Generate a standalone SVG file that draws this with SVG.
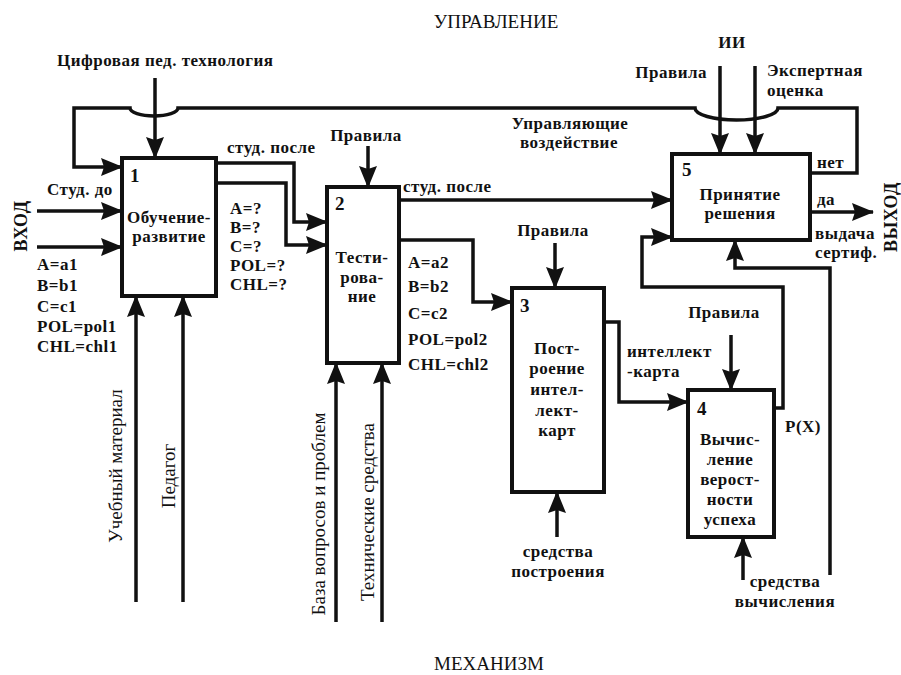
<svg xmlns="http://www.w3.org/2000/svg" width="901" height="675" viewBox="0 0 901 675">
<style>
text{font-family:"Liberation Serif","Times New Roman","DejaVu Serif",serif;font-size:17px;letter-spacing:0.5px;font-weight:bold;fill:#111}
.n{font-weight:normal;font-size:19px;letter-spacing:0}
.d{font-size:19px}
.m{text-anchor:middle}
.e{text-anchor:end}
.box{fill:#fff;stroke:#111;stroke-width:4}
.ln{fill:none;stroke:#111;stroke-width:3.5}
.ar{marker-end:url(#ah)}
</style>
<defs>
<marker id="ah" markerWidth="22" markerHeight="18" refX="21" refY="9" orient="auto" markerUnits="userSpaceOnUse">
<path d="M0,0 L22,9 L0,18 L3,9 z" fill="#111"/>
</marker>
</defs>
<rect width="901" height="675" fill="#fff"/>
<g id="frame-labels">
<text class="m n" x="496" y="28">УПРАВЛЕНИЕ</text>
<text class="m n" x="489" y="670">МЕХАНИЗМ</text>
<text transform="translate(27,226) rotate(-90)" class="m" style="font-size:18px">ВХОД</text>
<text transform="translate(897,217) rotate(-90)" class="m" style="font-size:18px">ВЫХОД</text>
</g>
<g id="connectors">
<path class="ln ar" d="M155,78 V158"/>
<path class="ln ar" d="M810,173 H857 V108 H778 A41.5,12 0 0 1 695,108 H178 A24,8 0 0 1 130,108 H74 V167 H122"/>
<path class="ln ar" d="M37,211 H122"/>
<path class="ln ar" d="M37,247 H122"/>
<path class="ln ar" d="M216,163 H294 V222 H327"/>
<path class="ln ar" d="M216,183 H286 V245 H327"/>
<path class="ln ar" d="M368,146 V187"/>
<path class="ln ar" d="M399,200 H672"/>
<path class="ln ar" d="M399,240 H473 V302 H512"/>
<path class="ln ar" d="M555,243 V288"/>
<path class="ln ar" d="M604,322 H619 V402 H688"/>
<path class="ln ar" d="M731,335 V390"/>
<path class="ln ar" d="M774,408 H783 V287 H642 V237 H672"/>
<path class="ln ar" d="M830,575 V268 H735 V240"/>
<path class="ln ar" d="M720,66 V154"/>
<path class="ln ar" d="M755,66 V154"/>
<path class="ln ar" d="M810,212 H873"/>
<path class="ln ar" d="M136,602 V296"/>
<path class="ln ar" d="M183,602 V296"/>
<path class="ln ar" d="M336,622 V363"/>
<path class="ln ar" d="M382,622 V363"/>
<path class="ln ar" d="M557,537 V492"/>
<path class="ln ar" d="M743,580 V537"/>
</g>
<g id="labels">
<text x="57" y="66">Цифровая пед. технология</text>
<text x="47" y="195">Студ. до</text>
<text x="37" y="270">A=a1</text>
<text x="37" y="291">B=b1</text>
<text x="37" y="312">C=c1</text>
<text x="37" y="332">POL=pol1</text>
<text x="37" y="352">CHL=chl1</text>
<text x="227" y="153">студ. после</text>
<text x="230" y="214">A=?</text>
<text x="230" y="233">B=?</text>
<text x="230" y="252">C=?</text>
<text x="230" y="271">POL=?</text>
<text x="230" y="290">CHL=?</text>
<text class="m" x="366" y="141">Правила</text>
<text x="403" y="192">студ. после</text>
<text x="408" y="268">A=a2</text>
<text x="408" y="292">B=b2</text>
<text x="408" y="319">C=c2</text>
<text x="408" y="345">POL=pol2</text>
<text x="408" y="370">CHL=chl2</text>
<text class="m" x="553" y="236">Правила</text>
<text class="m" x="724" y="318">Правила</text>
<text x="627" y="357">интеллект</text>
<text x="627" y="377">-карта</text>
<text x="785" y="432">P(X)</text>
<text class="m" x="558" y="557">средства</text>
<text class="m" x="558" y="577">построения</text>
<text class="m" x="785" y="587">средства</text>
<text class="m" x="785" y="607">вычисления</text>
<text class="m" x="732" y="48">ИИ</text>
<text class="e" x="707" y="78">Правила</text>
<text x="767" y="76">Экспертная</text>
<text x="767" y="96">оценка</text>
<text class="m" x="570" y="129">Управляющие</text>
<text class="m" x="569" y="148">воздействие</text>
<text x="817" y="168">нет</text>
<text x="817" y="205">да</text>
<text x="815" y="239">выдача</text>
<text x="815" y="258">сертиф.</text>
<text class="n m" transform="translate(122,466) rotate(-90)">Учебный материал</text>
<text class="n m" transform="translate(175,476) rotate(-90)">Педагог</text>
<text class="n m" transform="translate(325,514) rotate(-90)">База вопросов и проблем</text>
<text class="n m" transform="translate(374,512) rotate(-90)">Технические средства</text>
</g>
<g id="node1">
<rect class="box" x="122" y="158" width="94" height="138"/>
<text class="d" x="130" y="182">1</text>
<text class="m" x="169" y="223">Обучение-</text>
<text class="m" x="169" y="242">развитие</text>
</g>
<g id="node2">
<rect class="box" x="327" y="187" width="72" height="176"/>
<text class="d" x="335" y="210">2</text>
<text class="m" x="362" y="263">Тести-</text>
<text class="m" x="362" y="283">рова-</text>
<text class="m" x="362" y="302">ние</text>
</g>
<g id="node3">
<rect class="box" x="512" y="288" width="92" height="204"/>
<text class="d" x="520" y="312">3</text>
<text class="m" x="557" y="354">Пост-</text>
<text class="m" x="557" y="374">роение</text>
<text class="m" x="557" y="395">интел-</text>
<text class="m" x="557" y="416">лект-</text>
<text class="m" x="557" y="436">карт</text>
</g>
<g id="node4">
<rect class="box" x="688" y="390" width="86" height="147"/>
<text class="d" x="697" y="415">4</text>
<text class="m" x="730" y="445">Вычис-</text>
<text class="m" x="730" y="465">ление</text>
<text class="m" x="730" y="485">верост-</text>
<text class="m" x="730" y="505">ности</text>
<text class="m" x="730" y="525">успеха</text>
</g>
<g id="node5">
<rect class="box" x="672" y="154" width="138" height="86"/>
<text class="d" x="682" y="176">5</text>
<text class="m" x="740" y="200">Принятие</text>
<text class="m" x="740" y="219">решения</text>
</g>
</svg>
